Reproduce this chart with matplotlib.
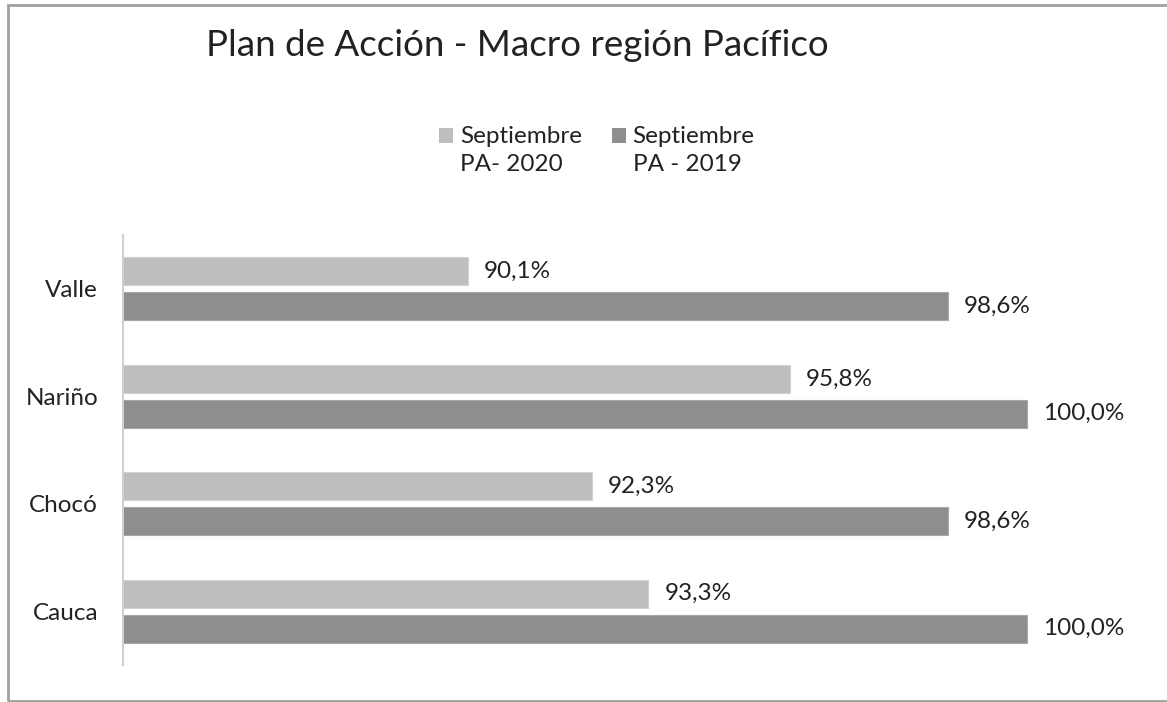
import numpy as np
import matplotlib
matplotlib.use("Agg")
import matplotlib.pyplot as plt
from matplotlib.patches import Rectangle

plt.rcParams["font.family"] = ["Lato", "DejaVu Sans"]

# Data
regions = ["Valle", "Nariño", "Chocó", "Cauca"]
pa_2020 = [90.1, 95.8, 92.3, 93.3]
pa_2019 = [98.6, 100.0, 98.6, 100.0]
series_labels = ["Septiembre\nPA- 2020", "Septiembre\nPA - 2019"]

color_2020 = "#BEBEBE"
color_2019 = "#8E8E8E"

fig = plt.figure(figsize=(11.67, 7.02), dpi=100)
ax = fig.add_axes([0.1054, 0.0527, 0.8715, 0.6125])

pos = np.arange(len(regions))
bar_h = 0.26
off = 0.162

ax.barh(pos - off, pa_2020, height=bar_h, color=color_2020,
        edgecolor="#D2D2D2", linewidth=0.8)
ax.barh(pos + off, pa_2019, height=bar_h, color=color_2019,
        edgecolor="#A8A8A8", linewidth=0.8)

for y, v in zip(pos - off, pa_2020):
    ax.text(v + 0.28, y, f"{v:.1f}%".replace(".", ","), va="center",
            ha="left", fontsize=17.5, color="#222222")
for y, v in zip(pos + off, pa_2019):
    ax.text(v + 0.28, y, f"{v:.1f}%".replace(".", ","), va="center",
            ha="left", fontsize=17.5, color="#222222")

ax.set_xlim(84, 102)
ax.set_ylim(len(regions) - 0.5, -0.5)
ax.set_yticks(pos)
ax.set_yticklabels(regions, fontsize=17.5, color="#222222")
ax.tick_params(axis="y", length=0, pad=18)
ax.set_xticks([])
for s in ["top", "right", "bottom"]:
    ax.spines[s].set_visible(False)
ax.spines["left"].set_color("#D0D0D0")
ax.spines["left"].set_linewidth(1.5)

# Title
fig.text(0.443, 0.935, "Plan de Acción - Macro región Pacífico",
         ha="center", va="center", fontsize=26.5, color="#222222")

# Legend (square aligned with first line of label)
legend_items = [(0.3765, 0.3945, series_labels[0], color_2020),
                (0.5245, 0.5420, series_labels[1], color_2019)]
for sx, tx, lab, col in legend_items:
    fig.patches.append(Rectangle((sx, 0.797), 0.012, 0.020,
                                 transform=fig.transFigure, facecolor=col,
                                 edgecolor="none"))
    fig.text(tx, 0.821, lab, ha="left", va="top", fontsize=17.5,
             color="#222222", linespacing=1.45)

# Outer border
fig.patches.append(Rectangle((0.007, 0.002), 1.2, 0.991,
                             transform=fig.transFigure, facecolor="none",
                             edgecolor="#A0A0A0", linewidth=2))

fig.savefig("out.png", dpi=100)
